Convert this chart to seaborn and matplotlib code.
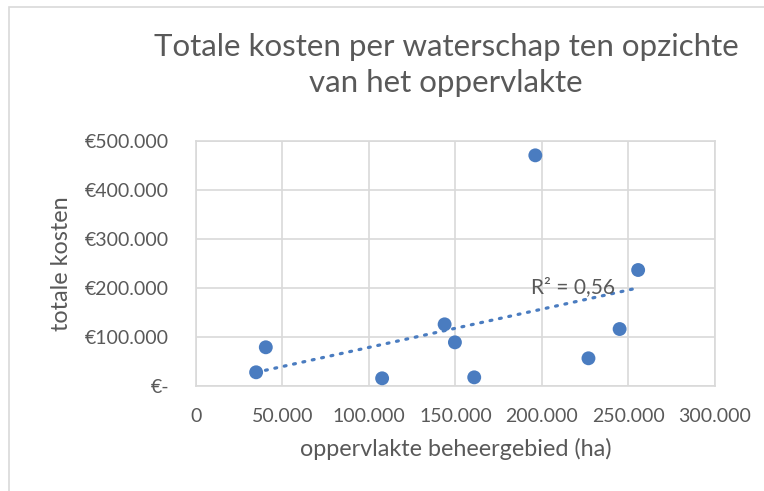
import numpy as np
import pandas as pd
import seaborn as sns
import matplotlib
matplotlib.use("Agg")
import matplotlib.pyplot as plt
from matplotlib.ticker import FuncFormatter
from matplotlib.patches import Rectangle

# Area of each water board's territory (ha) and its total costs (EUR)
oppervlakte = [34900, 40500, 107700, 143800, 149750, 160900, 196200, 226900, 244900, 255600]
kosten = [27400, 78500, 15100, 125400, 88600, 17100, 470700, 56000, 115800, 236400]

x_ticks = [0, 50000, 100000, 150000, 200000, 250000, 300000]
y_ticks = [0, 100000, 200000, 300000, 400000, 500000]

title = "Totale kosten per waterschap ten opzichte\nvan het oppervlakte"
x_label = "oppervlakte beheergebied (ha)"
y_label = "totale kosten"

df = pd.DataFrame({"oppervlakte": oppervlakte, "kosten": kosten})

sns.set_style("white")
plt.rcParams["font.family"] = ["Lato", "DejaVu Sans"]

TEXT = "#595959"
GRID = "#d9d9d9"
BLUE = "#4a7cc0"

W, H = 764, 491
fig = plt.figure(figsize=(W / 100, H / 100), dpi=100)
L, R, T, B = 195.7, 715.0, 141.0, 385.7
ax = fig.add_axes([L / W, 1 - B / H, (R - L) / W, (B - T) / H])

# Linear trend forced through the origin, with its (uncentred) R²
xs = np.asarray(oppervlakte, float)
ys = np.asarray(kosten, float)
slope = np.sum(xs * ys) / np.sum(xs * xs)
r2 = np.sum((slope * xs) ** 2) / np.sum(ys ** 2)
xt = np.array([xs.min(), xs.max()])
ax.plot(xt, slope * xt, linestyle=(0, (0.6, 2.4)), dash_capstyle="round",
        color=BLUE, linewidth=2.3, zorder=2)

sns.scatterplot(data=df, x="oppervlakte", y="kosten", ax=ax, s=100,
                color=BLUE, edgecolor="none", zorder=3, legend=False)

ax.annotate("R² = " + f"{r2:.2f}".replace(".", ","),
            xy=(xs.max(), slope * xs.max()), xytext=(-23, 1),
            textcoords="offset pixels", ha="right", va="center",
            fontsize=15, color=TEXT, zorder=4)

ax.set_xlim(x_ticks[0], x_ticks[-1])
ax.set_ylim(y_ticks[0], y_ticks[-1])
ax.set_xticks(x_ticks)
ax.set_yticks(y_ticks)


def fmt_thousands(v):
    return f"{int(round(v)):,}".replace(",", ".")


ax.xaxis.set_major_formatter(FuncFormatter(lambda v, p: "0" if v == 0 else fmt_thousands(v)))
ax.yaxis.set_major_formatter(FuncFormatter(lambda v, p: "€-" if v == 0 else "€" + fmt_thousands(v)))

ax.grid(True, color=GRID, linewidth=1.2)
ax.set_axisbelow(True)
for s in ax.spines.values():
    s.set_color(GRID)
    s.set_linewidth(1.2)

ax.tick_params(axis="both", length=0, labelsize=14, colors=TEXT)
ax.tick_params(axis="x", pad=16)
ax.tick_params(axis="y", pad=19)

ax.set_xlabel(x_label, fontsize=16.8, color=TEXT, labelpad=9)
ax.set_ylabel(y_label, fontsize=16.8, color=TEXT)
ax.yaxis.set_label_coords((72 - L) / (R - L), 0.5)

fig.text(446 / W, 1 - 65 / H, title, ha="center", va="center",
         fontsize=22.5, color=TEXT, linespacing=1.35)

# chart frame
fig.patches.append(Rectangle((9 / W, -0.1), 1.2, 1 - 7 / H + 0.1, transform=fig.transFigure,
                             fill=False, edgecolor=GRID, linewidth=1.2))

fig.savefig("out.png", dpi=100)
